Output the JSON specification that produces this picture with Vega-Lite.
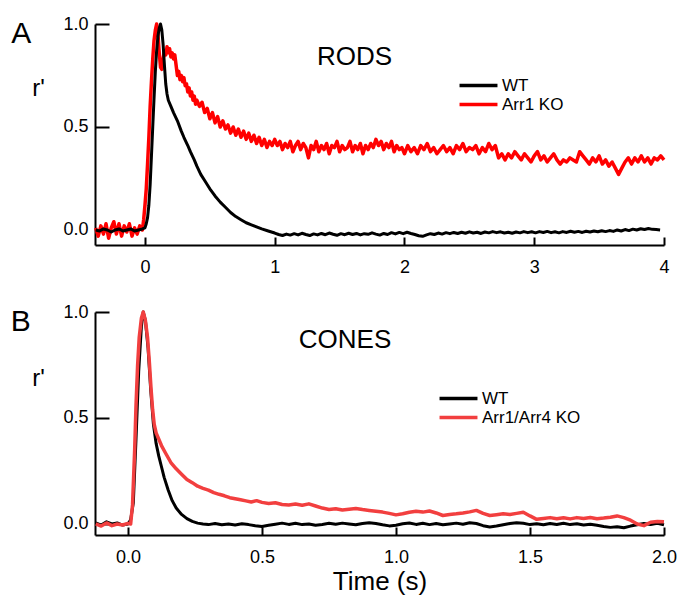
{
"$schema": "https://vega.github.io/schema/vega-lite/v6.json",
"background": "white",
"padding": {"left": 10, "top": 15, "right": 5, "bottom": 5},
"spacing": 27,
"config": {
  "font": "Liberation Sans",
  "view": {"stroke": null},
  "axis": {"domainColor": "black", "domainWidth": 2, "tickColor": "black", "tickWidth": 2, "labelColor": "black", "labelFontSize": 18, "grid": false, "titleColor": "black", "titleFontWeight": "normal", "labelFlush": false},
  "legend": {"labelColor": "black", "labelFontSize": 17}
},
"resolve": {"scale": {"color": "independent", "x": "independent", "y": "independent"}, "legend": {"color": "independent"}},
"datasets": {
"rods": [
{"t":-0.38,"r":0.01,"g":"Arr1 KO"},{"t":-0.36,"r":-0.03,"g":"Arr1 KO"},{"t":-0.34,"r":0.02,"g":"Arr1 KO"},{"t":-0.32,"r":-0.02,"g":"Arr1 KO"},{"t":-0.30,"r":0.03,"g":"Arr1 KO"},{"t":-0.28,"r":-0.04,"g":"Arr1 KO"},{"t":-0.26,"r":0.01,"g":"Arr1 KO"},{"t":-0.24,"r":0.04,"g":"Arr1 KO"},{"t":-0.22,"r":-0.02,"g":"Arr1 KO"},{"t":-0.20,"r":0.03,"g":"Arr1 KO"},{"t":-0.18,"r":-0.03,"g":"Arr1 KO"},{"t":-0.16,"r":0.02,"g":"Arr1 KO"},{"t":-0.14,"r":-0.01,"g":"Arr1 KO"},{"t":-0.12,"r":0.03,"g":"Arr1 KO"},{"t":-0.10,"r":-0.03,"g":"Arr1 KO"},{"t":-0.08,"r":0.01,"g":"Arr1 KO"},{"t":-0.06,"r":-0.02,"g":"Arr1 KO"},{"t":-0.04,"r":0.02,"g":"Arr1 KO"},{"t":-0.02,"r":0.0,"g":"Arr1 KO"},{"t":-0.01,"r":0.05,"g":"Arr1 KO"},
{"t":0.0,"r":0.12,"g":"Arr1 KO"},{"t":0.01,"r":0.2,"g":"Arr1 KO"},{"t":0.02,"r":0.32,"g":"Arr1 KO"},{"t":0.03,"r":0.45,"g":"Arr1 KO"},{"t":0.04,"r":0.6,"g":"Arr1 KO"},{"t":0.05,"r":0.72,"g":"Arr1 KO"},{"t":0.06,"r":0.83,"g":"Arr1 KO"},{"t":0.07,"r":0.92,"g":"Arr1 KO"},{"t":0.08,"r":0.97,"g":"Arr1 KO"},{"t":0.09,"r":1.0,"g":"Arr1 KO"},
{"t":0.10,"r":0.95,"g":"Arr1 KO"},{"t":0.11,"r":0.86,"g":"Arr1 KO"},{"t":0.12,"r":0.79,"g":"Arr1 KO"},{"t":0.13,"r":0.78,"g":"Arr1 KO"},{"t":0.14,"r":0.83,"g":"Arr1 KO"},{"t":0.15,"r":0.87,"g":"Arr1 KO"},{"t":0.16,"r":0.85,"g":"Arr1 KO"},{"t":0.17,"r":0.89,"g":"Arr1 KO"},{"t":0.18,"r":0.86,"g":"Arr1 KO"},{"t":0.19,"r":0.88,"g":"Arr1 KO"},
{"t":0.20,"r":0.84,"g":"Arr1 KO"},{"t":0.21,"r":0.86,"g":"Arr1 KO"},{"t":0.22,"r":0.83,"g":"Arr1 KO"},{"t":0.23,"r":0.85,"g":"Arr1 KO"},{"t":0.24,"r":0.8,"g":"Arr1 KO"},{"t":0.25,"r":0.75,"g":"Arr1 KO"},{"t":0.26,"r":0.77,"g":"Arr1 KO"},{"t":0.27,"r":0.73,"g":"Arr1 KO"},{"t":0.28,"r":0.75,"g":"Arr1 KO"},{"t":0.29,"r":0.72,"g":"Arr1 KO"},
{"t":0.30,"r":0.74,"g":"Arr1 KO"},{"t":0.31,"r":0.7,"g":"Arr1 KO"},{"t":0.32,"r":0.71,"g":"Arr1 KO"},{"t":0.33,"r":0.67,"g":"Arr1 KO"},{"t":0.34,"r":0.69,"g":"Arr1 KO"},{"t":0.35,"r":0.65,"g":"Arr1 KO"},{"t":0.36,"r":0.67,"g":"Arr1 KO"},{"t":0.37,"r":0.63,"g":"Arr1 KO"},{"t":0.38,"r":0.65,"g":"Arr1 KO"},{"t":0.39,"r":0.61,"g":"Arr1 KO"},
{"t":0.40,"r":0.63,"g":"Arr1 KO"},{"t":0.42,"r":0.6,"g":"Arr1 KO"},{"t":0.44,"r":0.62,"g":"Arr1 KO"},{"t":0.46,"r":0.57,"g":"Arr1 KO"},{"t":0.48,"r":0.59,"g":"Arr1 KO"},{"t":0.50,"r":0.54,"g":"Arr1 KO"},{"t":0.52,"r":0.57,"g":"Arr1 KO"},{"t":0.54,"r":0.52,"g":"Arr1 KO"},{"t":0.56,"r":0.55,"g":"Arr1 KO"},{"t":0.58,"r":0.5,"g":"Arr1 KO"},
{"t":0.60,"r":0.53,"g":"Arr1 KO"},{"t":0.62,"r":0.49,"g":"Arr1 KO"},{"t":0.64,"r":0.51,"g":"Arr1 KO"},{"t":0.66,"r":0.47,"g":"Arr1 KO"},{"t":0.68,"r":0.5,"g":"Arr1 KO"},{"t":0.70,"r":0.46,"g":"Arr1 KO"},{"t":0.72,"r":0.49,"g":"Arr1 KO"},{"t":0.74,"r":0.45,"g":"Arr1 KO"},{"t":0.76,"r":0.48,"g":"Arr1 KO"},{"t":0.78,"r":0.44,"g":"Arr1 KO"},
{"t":0.80,"r":0.47,"g":"Arr1 KO"},{"t":0.82,"r":0.43,"g":"Arr1 KO"},{"t":0.84,"r":0.46,"g":"Arr1 KO"},{"t":0.86,"r":0.42,"g":"Arr1 KO"},{"t":0.88,"r":0.45,"g":"Arr1 KO"},{"t":0.90,"r":0.41,"g":"Arr1 KO"},{"t":0.92,"r":0.44,"g":"Arr1 KO"},{"t":0.94,"r":0.4,"g":"Arr1 KO"},{"t":0.96,"r":0.43,"g":"Arr1 KO"},{"t":0.98,"r":0.41,"g":"Arr1 KO"},
{"t":1.00,"r":0.44,"g":"Arr1 KO"},{"t":1.02,"r":0.41,"g":"Arr1 KO"},{"t":1.04,"r":0.43,"g":"Arr1 KO"},{"t":1.06,"r":0.39,"g":"Arr1 KO"},{"t":1.08,"r":0.42,"g":"Arr1 KO"},{"t":1.10,"r":0.4,"g":"Arr1 KO"},{"t":1.12,"r":0.43,"g":"Arr1 KO"},{"t":1.14,"r":0.38,"g":"Arr1 KO"},{"t":1.16,"r":0.41,"g":"Arr1 KO"},{"t":1.18,"r":0.43,"g":"Arr1 KO"},
{"t":1.20,"r":0.39,"g":"Arr1 KO"},{"t":1.22,"r":0.42,"g":"Arr1 KO"},{"t":1.24,"r":0.4,"g":"Arr1 KO"},{"t":1.26,"r":0.35,"g":"Arr1 KO"},{"t":1.28,"r":0.41,"g":"Arr1 KO"},{"t":1.30,"r":0.39,"g":"Arr1 KO"},{"t":1.32,"r":0.43,"g":"Arr1 KO"},{"t":1.34,"r":0.38,"g":"Arr1 KO"},{"t":1.36,"r":0.41,"g":"Arr1 KO"},{"t":1.38,"r":0.39,"g":"Arr1 KO"},
{"t":1.40,"r":0.42,"g":"Arr1 KO"},{"t":1.42,"r":0.37,"g":"Arr1 KO"},{"t":1.44,"r":0.41,"g":"Arr1 KO"},{"t":1.46,"r":0.4,"g":"Arr1 KO"},{"t":1.48,"r":0.43,"g":"Arr1 KO"},{"t":1.50,"r":0.38,"g":"Arr1 KO"},{"t":1.52,"r":0.41,"g":"Arr1 KO"},{"t":1.54,"r":0.39,"g":"Arr1 KO"},{"t":1.56,"r":0.4,"g":"Arr1 KO"},{"t":1.58,"r":0.43,"g":"Arr1 KO"},
{"t":1.60,"r":0.38,"g":"Arr1 KO"},{"t":1.62,"r":0.41,"g":"Arr1 KO"},{"t":1.64,"r":0.39,"g":"Arr1 KO"},{"t":1.66,"r":0.42,"g":"Arr1 KO"},{"t":1.68,"r":0.37,"g":"Arr1 KO"},{"t":1.70,"r":0.41,"g":"Arr1 KO"},{"t":1.72,"r":0.39,"g":"Arr1 KO"},{"t":1.74,"r":0.42,"g":"Arr1 KO"},{"t":1.76,"r":0.4,"g":"Arr1 KO"},{"t":1.78,"r":0.44,"g":"Arr1 KO"},
{"t":1.80,"r":0.41,"g":"Arr1 KO"},{"t":1.82,"r":0.43,"g":"Arr1 KO"},{"t":1.84,"r":0.39,"g":"Arr1 KO"},{"t":1.86,"r":0.42,"g":"Arr1 KO"},{"t":1.88,"r":0.4,"g":"Arr1 KO"},{"t":1.90,"r":0.43,"g":"Arr1 KO"},{"t":1.92,"r":0.38,"g":"Arr1 KO"},{"t":1.94,"r":0.41,"g":"Arr1 KO"},{"t":1.96,"r":0.39,"g":"Arr1 KO"},{"t":1.98,"r":0.4,"g":"Arr1 KO"},
{"t":2.0,"r":0.37,"g":"Arr1 KO"},{"t":2.025,"r":0.41,"g":"Arr1 KO"},{"t":2.05,"r":0.38,"g":"Arr1 KO"},{"t":2.075,"r":0.4,"g":"Arr1 KO"},{"t":2.1,"r":0.37,"g":"Arr1 KO"},{"t":2.125,"r":0.41,"g":"Arr1 KO"},{"t":2.15,"r":0.39,"g":"Arr1 KO"},{"t":2.175,"r":0.42,"g":"Arr1 KO"},{"t":2.2,"r":0.38,"g":"Arr1 KO"},{"t":2.225,"r":0.4,"g":"Arr1 KO"},
{"t":2.25,"r":0.37,"g":"Arr1 KO"},{"t":2.275,"r":0.39,"g":"Arr1 KO"},{"t":2.3,"r":0.41,"g":"Arr1 KO"},{"t":2.325,"r":0.38,"g":"Arr1 KO"},{"t":2.35,"r":0.4,"g":"Arr1 KO"},{"t":2.375,"r":0.37,"g":"Arr1 KO"},{"t":2.4,"r":0.41,"g":"Arr1 KO"},{"t":2.425,"r":0.39,"g":"Arr1 KO"},{"t":2.45,"r":0.42,"g":"Arr1 KO"},{"t":2.475,"r":0.38,"g":"Arr1 KO"},
{"t":2.5,"r":0.4,"g":"Arr1 KO"},{"t":2.525,"r":0.39,"g":"Arr1 KO"},{"t":2.55,"r":0.41,"g":"Arr1 KO"},{"t":2.575,"r":0.37,"g":"Arr1 KO"},{"t":2.6,"r":0.4,"g":"Arr1 KO"},{"t":2.625,"r":0.38,"g":"Arr1 KO"},{"t":2.65,"r":0.42,"g":"Arr1 KO"},{"t":2.675,"r":0.39,"g":"Arr1 KO"},{"t":2.7,"r":0.41,"g":"Arr1 KO"},{"t":2.725,"r":0.35,"g":"Arr1 KO"},
{"t":2.75,"r":0.37,"g":"Arr1 KO"},{"t":2.775,"r":0.34,"g":"Arr1 KO"},{"t":2.8,"r":0.37,"g":"Arr1 KO"},{"t":2.825,"r":0.35,"g":"Arr1 KO"},{"t":2.85,"r":0.38,"g":"Arr1 KO"},{"t":2.875,"r":0.36,"g":"Arr1 KO"},{"t":2.9,"r":0.34,"g":"Arr1 KO"},{"t":2.925,"r":0.37,"g":"Arr1 KO"},{"t":2.95,"r":0.35,"g":"Arr1 KO"},{"t":2.975,"r":0.33,"g":"Arr1 KO"},
{"t":3.0,"r":0.36,"g":"Arr1 KO"},{"t":3.025,"r":0.38,"g":"Arr1 KO"},{"t":3.05,"r":0.34,"g":"Arr1 KO"},{"t":3.075,"r":0.36,"g":"Arr1 KO"},{"t":3.1,"r":0.33,"g":"Arr1 KO"},{"t":3.125,"r":0.35,"g":"Arr1 KO"},{"t":3.15,"r":0.37,"g":"Arr1 KO"},{"t":3.175,"r":0.34,"g":"Arr1 KO"},{"t":3.2,"r":0.32,"g":"Arr1 KO"},{"t":3.225,"r":0.34,"g":"Arr1 KO"},
{"t":3.25,"r":0.33,"g":"Arr1 KO"},{"t":3.275,"r":0.35,"g":"Arr1 KO"},{"t":3.3,"r":0.34,"g":"Arr1 KO"},{"t":3.325,"r":0.33,"g":"Arr1 KO"},{"t":3.35,"r":0.38,"g":"Arr1 KO"},{"t":3.375,"r":0.36,"g":"Arr1 KO"},{"t":3.4,"r":0.34,"g":"Arr1 KO"},{"t":3.425,"r":0.32,"g":"Arr1 KO"},{"t":3.45,"r":0.35,"g":"Arr1 KO"},{"t":3.475,"r":0.33,"g":"Arr1 KO"},
{"t":3.5,"r":0.36,"g":"Arr1 KO"},{"t":3.525,"r":0.32,"g":"Arr1 KO"},{"t":3.55,"r":0.34,"g":"Arr1 KO"},{"t":3.575,"r":0.31,"g":"Arr1 KO"},{"t":3.6,"r":0.33,"g":"Arr1 KO"},{"t":3.625,"r":0.3,"g":"Arr1 KO"},{"t":3.65,"r":0.27,"g":"Arr1 KO"},{"t":3.675,"r":0.3,"g":"Arr1 KO"},{"t":3.7,"r":0.33,"g":"Arr1 KO"},{"t":3.725,"r":0.35,"g":"Arr1 KO"},
{"t":3.75,"r":0.32,"g":"Arr1 KO"},{"t":3.775,"r":0.35,"g":"Arr1 KO"},{"t":3.8,"r":0.33,"g":"Arr1 KO"},{"t":3.825,"r":0.36,"g":"Arr1 KO"},{"t":3.85,"r":0.33,"g":"Arr1 KO"},{"t":3.875,"r":0.35,"g":"Arr1 KO"},{"t":3.9,"r":0.32,"g":"Arr1 KO"},{"t":3.925,"r":0.35,"g":"Arr1 KO"},{"t":3.95,"r":0.34,"g":"Arr1 KO"},{"t":3.975,"r":0.36,"g":"Arr1 KO"},{"t":4.0,"r":0.34,"g":"Arr1 KO"},
{"t":-0.38,"r":0.0,"g":"WT"},{"t":-0.35,"r":-0.005,"g":"WT"},{"t":-0.32,"r":0.005,"g":"WT"},{"t":-0.29,"r":0.0,"g":"WT"},{"t":-0.26,"r":-0.01,"g":"WT"},{"t":-0.23,"r":0.0,"g":"WT"},{"t":-0.2,"r":0.005,"g":"WT"},{"t":-0.17,"r":-0.005,"g":"WT"},{"t":-0.14,"r":0.0,"g":"WT"},{"t":-0.11,"r":0.005,"g":"WT"},{"t":-0.08,"r":-0.005,"g":"WT"},{"t":-0.05,"r":0.0,"g":"WT"},{"t":-0.02,"r":0.005,"g":"WT"},
{"t":0.0,"r":0.01,"g":"WT"},{"t":0.01,"r":0.03,"g":"WT"},{"t":0.02,"r":0.06,"g":"WT"},{"t":0.03,"r":0.12,"g":"WT"},{"t":0.04,"r":0.22,"g":"WT"},{"t":0.05,"r":0.36,"g":"WT"},{"t":0.06,"r":0.5,"g":"WT"},{"t":0.07,"r":0.64,"g":"WT"},{"t":0.08,"r":0.77,"g":"WT"},{"t":0.09,"r":0.87,"g":"WT"},{"t":0.10,"r":0.94,"g":"WT"},{"t":0.11,"r":0.98,"g":"WT"},{"t":0.12,"r":1.0,"g":"WT"},{"t":0.13,"r":0.97,"g":"WT"},{"t":0.14,"r":0.9,"g":"WT"},{"t":0.15,"r":0.8,"g":"WT"},{"t":0.16,"r":0.71,"g":"WT"},{"t":0.17,"r":0.66,"g":"WT"},{"t":0.18,"r":0.63,"g":"WT"},
{"t":0.2,"r":0.6,"g":"WT"},{"t":0.22,"r":0.57,"g":"WT"},{"t":0.25,"r":0.53,"g":"WT"},{"t":0.28,"r":0.48,"g":"WT"},{"t":0.3,"r":0.45,"g":"WT"},{"t":0.33,"r":0.41,"g":"WT"},{"t":0.35,"r":0.38,"g":"WT"},{"t":0.38,"r":0.34,"g":"WT"},{"t":0.4,"r":0.31,"g":"WT"},{"t":0.43,"r":0.27,"g":"WT"},{"t":0.46,"r":0.24,"g":"WT"},{"t":0.5,"r":0.2,"g":"WT"},{"t":0.54,"r":0.165,"g":"WT"},{"t":0.58,"r":0.135,"g":"WT"},{"t":0.62,"r":0.11,"g":"WT"},{"t":0.66,"r":0.085,"g":"WT"},{"t":0.7,"r":0.065,"g":"WT"},{"t":0.74,"r":0.05,"g":"WT"},{"t":0.78,"r":0.035,"g":"WT"},{"t":0.82,"r":0.025,"g":"WT"},{"t":0.86,"r":0.015,"g":"WT"},{"t":0.9,"r":0.005,"g":"WT"},{"t":0.95,"r":-0.005,"g":"WT"},
{"t":1.0,"r":-0.015,"g":"WT"},{"t":1.03,"r":-0.022,"g":"WT"},{"t":1.06,"r":-0.027,"g":"WT"},{"t":1.09,"r":-0.02,"g":"WT"},{"t":1.12,"r":-0.025,"g":"WT"},{"t":1.15,"r":-0.018,"g":"WT"},{"t":1.18,"r":-0.024,"g":"WT"},{"t":1.21,"r":-0.016,"g":"WT"},{"t":1.24,"r":-0.022,"g":"WT"},{"t":1.27,"r":-0.027,"g":"WT"},{"t":1.3,"r":-0.019,"g":"WT"},{"t":1.33,"r":-0.024,"g":"WT"},{"t":1.36,"r":-0.017,"g":"WT"},{"t":1.39,"r":-0.023,"g":"WT"},{"t":1.42,"r":-0.015,"g":"WT"},{"t":1.45,"r":-0.021,"g":"WT"},{"t":1.48,"r":-0.026,"g":"WT"},{"t":1.51,"r":-0.018,"g":"WT"},{"t":1.54,"r":-0.023,"g":"WT"},{"t":1.57,"r":-0.016,"g":"WT"},{"t":1.6,"r":-0.022,"g":"WT"},{"t":1.63,"r":-0.017,"g":"WT"},{"t":1.66,"r":-0.024,"g":"WT"},{"t":1.69,"r":-0.018,"g":"WT"},{"t":1.72,"r":-0.021,"g":"WT"},{"t":1.75,"r":-0.014,"g":"WT"},{"t":1.78,"r":-0.02,"g":"WT"},{"t":1.81,"r":-0.025,"g":"WT"},{"t":1.84,"r":-0.017,"g":"WT"},{"t":1.87,"r":-0.022,"g":"WT"},{"t":1.9,"r":-0.013,"g":"WT"},{"t":1.93,"r":-0.019,"g":"WT"},{"t":1.96,"r":-0.012,"g":"WT"},{"t":1.99,"r":-0.018,"g":"WT"},
{"t":2.02,"r":-0.011,"g":"WT"},{"t":2.05,"r":-0.017,"g":"WT"},{"t":2.08,"r":-0.022,"g":"WT"},{"t":2.11,"r":-0.028,"g":"WT"},{"t":2.14,"r":-0.031,"g":"WT"},{"t":2.17,"r":-0.024,"g":"WT"},{"t":2.2,"r":-0.018,"g":"WT"},{"t":2.23,"r":-0.022,"g":"WT"},{"t":2.26,"r":-0.015,"g":"WT"},{"t":2.29,"r":-0.02,"g":"WT"},{"t":2.32,"r":-0.013,"g":"WT"},{"t":2.35,"r":-0.018,"g":"WT"},{"t":2.38,"r":-0.012,"g":"WT"},{"t":2.41,"r":-0.017,"g":"WT"},{"t":2.44,"r":-0.011,"g":"WT"},{"t":2.47,"r":-0.016,"g":"WT"},{"t":2.5,"r":-0.009,"g":"WT"},{"t":2.53,"r":-0.015,"g":"WT"},{"t":2.56,"r":-0.011,"g":"WT"},{"t":2.59,"r":-0.017,"g":"WT"},{"t":2.62,"r":-0.01,"g":"WT"},{"t":2.65,"r":-0.014,"g":"WT"},{"t":2.68,"r":-0.008,"g":"WT"},{"t":2.71,"r":-0.013,"g":"WT"},{"t":2.74,"r":-0.009,"g":"WT"},{"t":2.77,"r":-0.015,"g":"WT"},{"t":2.8,"r":-0.011,"g":"WT"},{"t":2.83,"r":-0.016,"g":"WT"},{"t":2.86,"r":-0.01,"g":"WT"},{"t":2.89,"r":-0.014,"g":"WT"},{"t":2.92,"r":-0.008,"g":"WT"},{"t":2.95,"r":-0.013,"g":"WT"},{"t":2.98,"r":-0.009,"g":"WT"},
{"t":3.01,"r":-0.014,"g":"WT"},{"t":3.04,"r":-0.008,"g":"WT"},{"t":3.07,"r":-0.012,"g":"WT"},{"t":3.1,"r":-0.007,"g":"WT"},{"t":3.13,"r":-0.013,"g":"WT"},{"t":3.16,"r":-0.009,"g":"WT"},{"t":3.19,"r":-0.014,"g":"WT"},{"t":3.22,"r":-0.008,"g":"WT"},{"t":3.25,"r":-0.012,"g":"WT"},{"t":3.28,"r":-0.006,"g":"WT"},{"t":3.31,"r":-0.011,"g":"WT"},{"t":3.34,"r":-0.007,"g":"WT"},{"t":3.37,"r":-0.012,"g":"WT"},{"t":3.4,"r":-0.006,"g":"WT"},{"t":3.43,"r":-0.01,"g":"WT"},{"t":3.46,"r":-0.005,"g":"WT"},{"t":3.49,"r":-0.009,"g":"WT"},{"t":3.52,"r":-0.004,"g":"WT"},{"t":3.55,"r":-0.008,"g":"WT"},{"t":3.58,"r":-0.003,"g":"WT"},{"t":3.61,"r":-0.007,"g":"WT"},{"t":3.64,"r":0.0,"g":"WT"},{"t":3.67,"r":-0.005,"g":"WT"},{"t":3.7,"r":0.002,"g":"WT"},{"t":3.73,"r":-0.003,"g":"WT"},{"t":3.76,"r":0.004,"g":"WT"},{"t":3.79,"r":0.0,"g":"WT"},{"t":3.82,"r":0.006,"g":"WT"},{"t":3.85,"r":0.002,"g":"WT"},{"t":3.88,"r":0.007,"g":"WT"},{"t":3.91,"r":0.003,"g":"WT"},{"t":3.94,"r":0.002,"g":"WT"},{"t":3.97,"r":0.0,"g":"WT"}
],
"cones": [
{"t":-0.12,"r":0.005,"g":"WT"},{"t":-0.1,"r":-0.005,"g":"WT"},{"t":-0.08,"r":0.01,"g":"WT"},{"t":-0.06,"r":0.0,"g":"WT"},{"t":-0.04,"r":0.005,"g":"WT"},{"t":-0.02,"r":-0.005,"g":"WT"},{"t":0.0,"r":0.0,"g":"WT"},{"t":0.01,"r":0.02,"g":"WT"},{"t":0.02,"r":0.1,"g":"WT"},{"t":0.03,"r":0.4,"g":"WT"},{"t":0.04,"r":0.72,"g":"WT"},{"t":0.05,"r":0.93,"g":"WT"},{"t":0.057,"r":1.0,"g":"WT"},{"t":0.065,"r":0.96,"g":"WT"},{"t":0.075,"r":0.83,"g":"WT"},{"t":0.085,"r":0.63,"g":"WT"},{"t":0.095,"r":0.47,"g":"WT"},{"t":0.105,"r":0.38,"g":"WT"},{"t":0.115,"r":0.32,"g":"WT"},{"t":0.125,"r":0.27,"g":"WT"},{"t":0.135,"r":0.22,"g":"WT"},{"t":0.15,"r":0.16,"g":"WT"},{"t":0.165,"r":0.11,"g":"WT"},{"t":0.18,"r":0.075,"g":"WT"},{"t":0.2,"r":0.045,"g":"WT"},{"t":0.22,"r":0.025,"g":"WT"},{"t":0.24,"r":0.012,"g":"WT"},{"t":0.26,"r":0.004,"g":"WT"},{"t":0.28,"r":0.0,"g":"WT"},
{"t":0.3,"r":-0.003,"g":"WT"},{"t":0.325,"r":0.002,"g":"WT"},{"t":0.35,"r":-0.004,"g":"WT"},{"t":0.375,"r":0.0,"g":"WT"},{"t":0.4,"r":-0.005,"g":"WT"},{"t":0.425,"r":0.001,"g":"WT"},{"t":0.45,"r":-0.003,"g":"WT"},{"t":0.475,"r":-0.008,"g":"WT"},{"t":0.5,"r":-0.012,"g":"WT"},{"t":0.525,"r":-0.006,"g":"WT"},{"t":0.55,"r":-0.001,"g":"WT"},{"t":0.575,"r":0.004,"g":"WT"},{"t":0.6,"r":-0.002,"g":"WT"},{"t":0.625,"r":0.003,"g":"WT"},{"t":0.65,"r":-0.003,"g":"WT"},{"t":0.675,"r":0.0,"g":"WT"},{"t":0.7,"r":-0.006,"g":"WT"},{"t":0.725,"r":-0.002,"g":"WT"},{"t":0.75,"r":0.003,"g":"WT"},{"t":0.775,"r":-0.001,"g":"WT"},{"t":0.8,"r":0.004,"g":"WT"},{"t":0.825,"r":0.0,"g":"WT"},{"t":0.85,"r":-0.004,"g":"WT"},{"t":0.875,"r":0.002,"g":"WT"},{"t":0.9,"r":0.006,"g":"WT"},{"t":0.925,"r":0.002,"g":"WT"},{"t":0.95,"r":-0.004,"g":"WT"},{"t":0.975,"r":-0.009,"g":"WT"},
{"t":1.0,"r":-0.006,"g":"WT"},{"t":1.025,"r":0.001,"g":"WT"},{"t":1.05,"r":0.005,"g":"WT"},{"t":1.075,"r":-0.002,"g":"WT"},{"t":1.1,"r":0.003,"g":"WT"},{"t":1.125,"r":-0.003,"g":"WT"},{"t":1.15,"r":0.002,"g":"WT"},{"t":1.175,"r":-0.004,"g":"WT"},{"t":1.2,"r":0.0,"g":"WT"},{"t":1.225,"r":0.004,"g":"WT"},{"t":1.25,"r":-0.001,"g":"WT"},{"t":1.275,"r":0.006,"g":"WT"},{"t":1.3,"r":0.002,"g":"WT"},{"t":1.325,"r":-0.008,"g":"WT"},{"t":1.35,"r":-0.014,"g":"WT"},{"t":1.375,"r":-0.01,"g":"WT"},{"t":1.4,"r":-0.004,"g":"WT"},{"t":1.425,"r":0.002,"g":"WT"},{"t":1.45,"r":0.006,"g":"WT"},{"t":1.475,"r":0.003,"g":"WT"},{"t":1.5,"r":-0.003,"g":"WT"},{"t":1.525,"r":0.001,"g":"WT"},{"t":1.55,"r":-0.004,"g":"WT"},{"t":1.575,"r":0.002,"g":"WT"},{"t":1.6,"r":-0.002,"g":"WT"},{"t":1.625,"r":0.003,"g":"WT"},{"t":1.65,"r":-0.003,"g":"WT"},{"t":1.675,"r":0.001,"g":"WT"},{"t":1.7,"r":-0.005,"g":"WT"},{"t":1.725,"r":-0.001,"g":"WT"},{"t":1.75,"r":-0.006,"g":"WT"},{"t":1.775,"r":-0.012,"g":"WT"},{"t":1.8,"r":-0.016,"g":"WT"},{"t":1.825,"r":-0.013,"g":"WT"},{"t":1.85,"r":-0.018,"g":"WT"},{"t":1.875,"r":-0.01,"g":"WT"},{"t":1.9,"r":-0.004,"g":"WT"},{"t":1.925,"r":0.002,"g":"WT"},{"t":1.95,"r":-0.002,"g":"WT"},{"t":1.975,"r":0.003,"g":"WT"},{"t":2.0,"r":-0.004,"g":"WT"},
{"t":-0.12,"r":0.0,"g":"Arr1/Arr4 KO"},{"t":-0.1,"r":-0.01,"g":"Arr1/Arr4 KO"},{"t":-0.08,"r":0.005,"g":"Arr1/Arr4 KO"},{"t":-0.06,"r":-0.008,"g":"Arr1/Arr4 KO"},{"t":-0.04,"r":0.0,"g":"Arr1/Arr4 KO"},{"t":-0.02,"r":-0.005,"g":"Arr1/Arr4 KO"},{"t":0.0,"r":0.003,"g":"Arr1/Arr4 KO"},{"t":0.01,"r":0.0,"g":"Arr1/Arr4 KO"},{"t":0.017,"r":0.09,"g":"Arr1/Arr4 KO"},{"t":0.025,"r":0.35,"g":"Arr1/Arr4 KO"},{"t":0.03,"r":0.56,"g":"Arr1/Arr4 KO"},{"t":0.036,"r":0.75,"g":"Arr1/Arr4 KO"},{"t":0.042,"r":0.88,"g":"Arr1/Arr4 KO"},{"t":0.05,"r":0.97,"g":"Arr1/Arr4 KO"},{"t":0.057,"r":1.0,"g":"Arr1/Arr4 KO"},{"t":0.065,"r":0.96,"g":"Arr1/Arr4 KO"},{"t":0.073,"r":0.88,"g":"Arr1/Arr4 KO"},{"t":0.08,"r":0.76,"g":"Arr1/Arr4 KO"},{"t":0.086,"r":0.64,"g":"Arr1/Arr4 KO"},{"t":0.092,"r":0.54,"g":"Arr1/Arr4 KO"},{"t":0.098,"r":0.47,"g":"Arr1/Arr4 KO"},{"t":0.105,"r":0.43,"g":"Arr1/Arr4 KO"},{"t":0.115,"r":0.4,"g":"Arr1/Arr4 KO"},{"t":0.125,"r":0.37,"g":"Arr1/Arr4 KO"},
{"t":0.14,"r":0.335,"g":"Arr1/Arr4 KO"},{"t":0.16,"r":0.29,"g":"Arr1/Arr4 KO"},{"t":0.18,"r":0.26,"g":"Arr1/Arr4 KO"},{"t":0.2,"r":0.235,"g":"Arr1/Arr4 KO"},{"t":0.22,"r":0.21,"g":"Arr1/Arr4 KO"},{"t":0.24,"r":0.195,"g":"Arr1/Arr4 KO"},{"t":0.26,"r":0.178,"g":"Arr1/Arr4 KO"},{"t":0.28,"r":0.168,"g":"Arr1/Arr4 KO"},{"t":0.3,"r":0.16,"g":"Arr1/Arr4 KO"},{"t":0.32,"r":0.148,"g":"Arr1/Arr4 KO"},{"t":0.34,"r":0.14,"g":"Arr1/Arr4 KO"},{"t":0.36,"r":0.133,"g":"Arr1/Arr4 KO"},{"t":0.38,"r":0.124,"g":"Arr1/Arr4 KO"},{"t":0.4,"r":0.119,"g":"Arr1/Arr4 KO"},{"t":0.42,"r":0.114,"g":"Arr1/Arr4 KO"},{"t":0.44,"r":0.109,"g":"Arr1/Arr4 KO"},{"t":0.46,"r":0.104,"g":"Arr1/Arr4 KO"},{"t":0.48,"r":0.11,"g":"Arr1/Arr4 KO"},
{"t":0.5,"r":0.102,"g":"Arr1/Arr4 KO"},{"t":0.525,"r":0.097,"g":"Arr1/Arr4 KO"},{"t":0.55,"r":0.1,"g":"Arr1/Arr4 KO"},{"t":0.575,"r":0.092,"g":"Arr1/Arr4 KO"},{"t":0.6,"r":0.09,"g":"Arr1/Arr4 KO"},{"t":0.625,"r":0.094,"g":"Arr1/Arr4 KO"},{"t":0.65,"r":0.088,"g":"Arr1/Arr4 KO"},{"t":0.675,"r":0.095,"g":"Arr1/Arr4 KO"},{"t":0.7,"r":0.085,"g":"Arr1/Arr4 KO"},{"t":0.725,"r":0.075,"g":"Arr1/Arr4 KO"},{"t":0.75,"r":0.068,"g":"Arr1/Arr4 KO"},{"t":0.775,"r":0.072,"g":"Arr1/Arr4 KO"},{"t":0.8,"r":0.066,"g":"Arr1/Arr4 KO"},{"t":0.825,"r":0.07,"g":"Arr1/Arr4 KO"},{"t":0.85,"r":0.073,"g":"Arr1/Arr4 KO"},{"t":0.875,"r":0.068,"g":"Arr1/Arr4 KO"},{"t":0.9,"r":0.064,"g":"Arr1/Arr4 KO"},{"t":0.925,"r":0.06,"g":"Arr1/Arr4 KO"},{"t":0.95,"r":0.056,"g":"Arr1/Arr4 KO"},{"t":0.975,"r":0.05,"g":"Arr1/Arr4 KO"},
{"t":1.0,"r":0.043,"g":"Arr1/Arr4 KO"},{"t":1.025,"r":0.048,"g":"Arr1/Arr4 KO"},{"t":1.05,"r":0.055,"g":"Arr1/Arr4 KO"},{"t":1.075,"r":0.06,"g":"Arr1/Arr4 KO"},{"t":1.1,"r":0.056,"g":"Arr1/Arr4 KO"},{"t":1.125,"r":0.061,"g":"Arr1/Arr4 KO"},{"t":1.15,"r":0.052,"g":"Arr1/Arr4 KO"},{"t":1.175,"r":0.04,"g":"Arr1/Arr4 KO"},{"t":1.2,"r":0.045,"g":"Arr1/Arr4 KO"},{"t":1.225,"r":0.048,"g":"Arr1/Arr4 KO"},{"t":1.25,"r":0.052,"g":"Arr1/Arr4 KO"},{"t":1.275,"r":0.057,"g":"Arr1/Arr4 KO"},{"t":1.3,"r":0.064,"g":"Arr1/Arr4 KO"},{"t":1.325,"r":0.05,"g":"Arr1/Arr4 KO"},{"t":1.35,"r":0.04,"g":"Arr1/Arr4 KO"},{"t":1.375,"r":0.044,"g":"Arr1/Arr4 KO"},{"t":1.4,"r":0.048,"g":"Arr1/Arr4 KO"},{"t":1.425,"r":0.045,"g":"Arr1/Arr4 KO"},{"t":1.45,"r":0.05,"g":"Arr1/Arr4 KO"},{"t":1.475,"r":0.055,"g":"Arr1/Arr4 KO"},
{"t":1.5,"r":0.038,"g":"Arr1/Arr4 KO"},{"t":1.525,"r":0.022,"g":"Arr1/Arr4 KO"},{"t":1.55,"r":0.026,"g":"Arr1/Arr4 KO"},{"t":1.575,"r":0.03,"g":"Arr1/Arr4 KO"},{"t":1.6,"r":0.025,"g":"Arr1/Arr4 KO"},{"t":1.625,"r":0.029,"g":"Arr1/Arr4 KO"},{"t":1.65,"r":0.024,"g":"Arr1/Arr4 KO"},{"t":1.675,"r":0.03,"g":"Arr1/Arr4 KO"},{"t":1.7,"r":0.026,"g":"Arr1/Arr4 KO"},{"t":1.725,"r":0.031,"g":"Arr1/Arr4 KO"},{"t":1.75,"r":0.025,"g":"Arr1/Arr4 KO"},{"t":1.775,"r":0.028,"g":"Arr1/Arr4 KO"},{"t":1.8,"r":0.032,"g":"Arr1/Arr4 KO"},{"t":1.825,"r":0.038,"g":"Arr1/Arr4 KO"},{"t":1.85,"r":0.03,"g":"Arr1/Arr4 KO"},{"t":1.875,"r":0.018,"g":"Arr1/Arr4 KO"},{"t":1.9,"r":0.0,"g":"Arr1/Arr4 KO"},{"t":1.925,"r":-0.008,"g":"Arr1/Arr4 KO"},{"t":1.95,"r":0.008,"g":"Arr1/Arr4 KO"},{"t":1.975,"r":0.012,"g":"Arr1/Arr4 KO"},{"t":2.0,"r":0.01,"g":"Arr1/Arr4 KO"}
]
},
"vconcat": [
{
  "width": 569, "height": 221,
  "data": {"name": "rods"},
  "layer": [
    {
      "transform": [{"filter": "datum.g === 'Arr1 KO'"}],
      "mark": {"type": "line", "strokeWidth": 3.5, "strokeJoin": "round"},
      "encoding": {
        "x": {"field": "t", "type": "quantitative", "scale": {"domain": [-0.385, 4], "nice": false, "zero": false}, "axis": {"values": [0, 1, 2, 3, 4], "format": "d", "tickSize": -8, "labelPadding": 21, "title": null}},
        "y": {"field": "r", "type": "quantitative", "scale": {"domain": [-0.073, 1.0], "nice": false, "zero": false}, "axis": {"values": [0, 0.5, 1], "format": ".1f", "tickSize": -14, "labelPadding": 21, "title": "r'", "titleFontSize": 24, "titleAngle": 0, "titleAlign": "center", "titleBaseline": "middle", "titleX": -57, "titleY": 64}},
        "color": {"field": "g", "type": "nominal", "scale": {"domain": ["WT", "Arr1 KO"], "range": ["#000000", "#ff0000"]}, "legend": {"title": null, "orient": "none", "legendX": 375, "legendY": 53, "symbolType": "M-4,0H4", "symbolSize": 90, "symbolStrokeWidth": 3.5, "labelOffset": 15, "rowPadding": 1, "padding": 0, "labelFontSize": 17}}
      }
    },
    {
      "transform": [{"filter": "datum.g === 'WT'"}],
      "mark": {"type": "line", "strokeWidth": 3, "strokeJoin": "round"},
      "encoding": {
        "x": {"field": "t", "type": "quantitative", "scale": {"domain": [-0.385, 4], "nice": false, "zero": false}, "axis": {"values": [0, 1, 2, 3, 4], "format": "d", "tickSize": -8, "labelPadding": 21, "title": null}},
        "y": {"field": "r", "type": "quantitative", "scale": {"domain": [-0.073, 1.0], "nice": false, "zero": false}, "axis": {"values": [0, 0.5, 1], "format": ".1f", "tickSize": -14, "labelPadding": 21, "title": "r'", "titleFontSize": 24, "titleAngle": 0, "titleAlign": "center", "titleBaseline": "middle", "titleX": -57, "titleY": 64}},
        "color": {"field": "g", "type": "nominal", "scale": {"domain": ["WT", "Arr1 KO"], "range": ["#000000", "#ff0000"]}}
      }
    },
    {
      "data": {"values": [{"label": "A"}]},
      "mark": {"type": "text", "align": "left", "baseline": "alphabetic", "fontSize": 30, "color": "black"},
      "encoding": {"x": {"datum": -1.031, "type": "quantitative"}, "y": {"datum": 0.908, "type": "quantitative"}, "text": {"field": "label"}}
    },
    {
      "data": {"values": [{"label": "RODS"}]},
      "mark": {"type": "text", "align": "center", "baseline": "alphabetic", "fontSize": 26, "color": "black"},
      "encoding": {"x": {"datum": 1.615, "type": "quantitative"}, "y": {"datum": 0.8, "type": "quantitative"}, "text": {"field": "label"}}
    }
  ]
},
{
  "width": 569, "height": 223,
  "data": {"name": "cones"},
  "layer": [
    {
      "transform": [{"filter": "datum.g === 'WT'"}],
      "mark": {"type": "line", "strokeWidth": 3, "strokeJoin": "round"},
      "encoding": {
        "x": {"field": "t", "type": "quantitative", "scale": {"domain": [-0.123, 2.0], "nice": false, "zero": false}, "axis": {"values": [0, 0.5, 1, 1.5, 2], "format": ".1f", "tickSize": -8, "labelPadding": 21, "title": "Time (s)", "titleFontSize": 26, "titlePadding": 2}},
        "y": {"field": "r", "type": "quantitative", "scale": {"domain": [-0.052, 1.0], "nice": false, "zero": false}, "axis": {"values": [0, 0.5, 1], "format": ".1f", "tickSize": -14, "labelPadding": 21, "title": "r'", "titleFontSize": 24, "titleAngle": 0, "titleAlign": "center", "titleBaseline": "middle", "titleX": -57, "titleY": 66}},
        "color": {"field": "g", "type": "nominal", "scale": {"domain": ["WT", "Arr1/Arr4 KO"], "range": ["#000000", "#f23f3f"]}, "legend": {"title": null, "orient": "none", "legendX": 355, "legendY": 78, "symbolType": "M-4,0H4", "symbolSize": 90, "symbolStrokeWidth": 3.5, "labelOffset": 15, "rowPadding": 1, "padding": 0, "labelFontSize": 17}}
      }
    },
    {
      "transform": [{"filter": "datum.g === 'Arr1/Arr4 KO'"}],
      "mark": {"type": "line", "strokeWidth": 3.5, "strokeJoin": "round"},
      "encoding": {
        "x": {"field": "t", "type": "quantitative", "scale": {"domain": [-0.123, 2.0], "nice": false, "zero": false}, "axis": {"values": [0, 0.5, 1, 1.5, 2], "format": ".1f", "tickSize": -8, "labelPadding": 21, "title": "Time (s)", "titleFontSize": 26, "titlePadding": 2}},
        "y": {"field": "r", "type": "quantitative", "scale": {"domain": [-0.052, 1.0], "nice": false, "zero": false}, "axis": {"values": [0, 0.5, 1], "format": ".1f", "tickSize": -14, "labelPadding": 21, "title": "r'", "titleFontSize": 24, "titleAngle": 0, "titleAlign": "center", "titleBaseline": "middle", "titleX": -57, "titleY": 66}},
        "color": {"field": "g", "type": "nominal", "scale": {"domain": ["WT", "Arr1/Arr4 KO"], "range": ["#000000", "#f23f3f"]}}
      }
    },
    {
      "data": {"values": [{"label": "B"}]},
      "mark": {"type": "text", "align": "left", "baseline": "alphabetic", "fontSize": 30, "color": "black"},
      "encoding": {"x": {"datum": -0.437, "type": "quantitative"}, "y": {"datum": 0.91, "type": "quantitative"}, "text": {"field": "label"}}
    },
    {
      "data": {"values": [{"label": "CONES"}]},
      "mark": {"type": "text", "align": "center", "baseline": "alphabetic", "fontSize": 26, "color": "black"},
      "encoding": {"x": {"datum": 0.81, "type": "quantitative"}, "y": {"datum": 0.83, "type": "quantitative"}, "text": {"field": "label"}}
    }
  ]
}
]
}
